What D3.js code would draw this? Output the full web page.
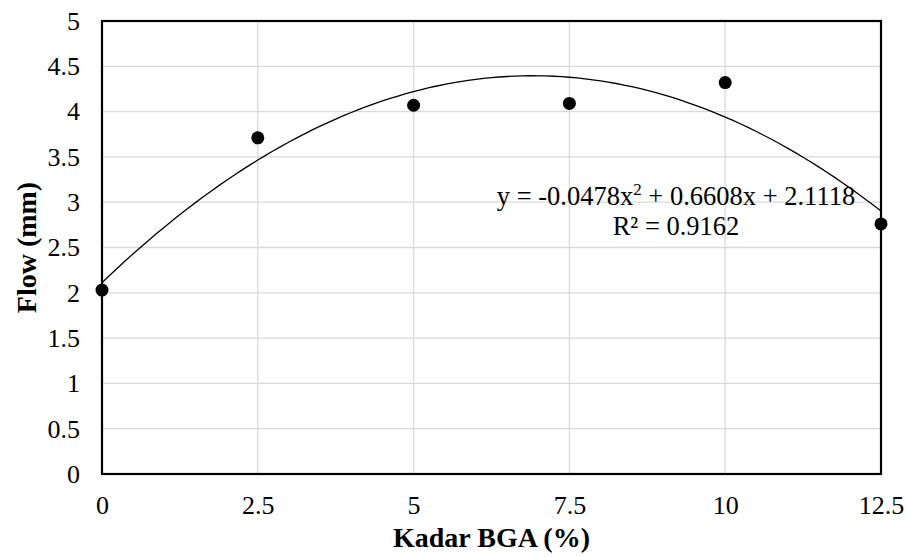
<!DOCTYPE html>
<html>
<head>
<meta charset="utf-8">
<script src="https://cdn.jsdelivr.net/npm/d3@7"></script>
<style>
  body { margin: 0; background: #fff; }
  svg text { font-family: "Liberation Serif", "Times New Roman", serif; fill: #000; }
</style>
</head>
<body>
<svg id="chart" width="906" height="557"></svg>
<script>
// data
const kadar = [0, 2.5, 5, 7.5, 10, 12.5];
const flow = [2.03, 3.71, 4.07, 4.09, 4.32, 2.76];
const xTicks = [0, 2.5, 5, 7.5, 10, 12.5];
const yTicks = [0, 0.5, 1, 1.5, 2, 2.5, 3, 3.5, 4, 4.5, 5];
// trendline coefficients as printed (a, b, c)
const trend = [-0.0478, 0.6608, 2.1118];
const eqParts = ["y = -0.0478x", "2", " + 0.6608x + 2.1118"];
const r2Text = "R² = 0.9162";

const WIDTH = 906, HEIGHT = 557;
const MARGIN = {left: 102, right: 25, top: 21, bottom: 83};

const svg = d3.select("#chart");

const xScale = d3.scaleLinear()
  .domain([0, 12.5])
  .range([MARGIN.left, WIDTH - MARGIN.right]);

const yScale = d3.scaleLinear()
  .domain([0, 5])
  .range([HEIGHT - MARGIN.bottom, MARGIN.top]);

// gridlines
svg.append("g")
  .selectAll("line")
  .data(yTicks.slice(1, -1))
  .join("line")
  .attr("x1", xScale(0)).attr("x2", xScale(12.5))
  .attr("y1", d => yScale(d)).attr("y2", d => yScale(d))
  .attr("stroke", "#d9d9d9").attr("stroke-width", 1.3);

svg.append("g")
  .selectAll("line")
  .data(xTicks.slice(1, -1))
  .join("line")
  .attr("x1", d => xScale(d)).attr("x2", d => xScale(d))
  .attr("y1", yScale(0)).attr("y2", yScale(5))
  .attr("stroke", "#d9d9d9").attr("stroke-width", 1.3);

// plot border
svg.append("rect")
  .attr("x", xScale(0)).attr("y", yScale(5))
  .attr("width", xScale(12.5) - xScale(0))
  .attr("height", yScale(0) - yScale(5))
  .attr("fill", "none").attr("stroke", "#000").attr("stroke-width", 2.2);

// axes (labels only)
const xAxis = svg.append("g")
  .attr("transform", `translate(0, ${yScale(0)})`)
  .call(d3.axisBottom(xScale).tickValues(xTicks).tickSize(0).tickPadding(22).tickFormat(d3.format("~g")));
xAxis.select(".domain").remove();
xAxis.selectAll("text").style("font-size", "26px").style("font-family", "Liberation Serif");

const yAxis = svg.append("g")
  .attr("transform", `translate(${xScale(0)}, 0)`)
  .call(d3.axisLeft(yScale).tickValues(yTicks).tickSize(0).tickPadding(22).tickFormat(d3.format("~g")));
yAxis.select(".domain").remove();
yAxis.selectAll("text").style("font-size", "26px").style("font-family", "Liberation Serif");

// axis titles
svg.append("text")
  .attr("x", (xScale(0) + xScale(12.5)) / 2)
  .attr("y", 547)
  .attr("text-anchor", "middle")
  .style("font-size", "28px")
  .style("font-weight", "bold")
  .text("Kadar BGA (%)");

svg.append("text")
  .attr("transform", "rotate(-90)")
  .attr("x", -(yScale(0) + yScale(5)) / 2)
  .attr("y", 36)
  .attr("text-anchor", "middle")
  .style("font-size", "28px")
  .style("font-weight", "bold")
  .text("Flow (mm)");

// polynomial trendline
const curveX = d3.range(0, 12.5001, 0.125);
svg.append("path")
  .datum(curveX)
  .attr("d", d3.line()
    .x(d => xScale(d))
    .y(d => yScale(trend[0] * d * d + trend[1] * d + trend[2])))
  .attr("fill", "none")
  .attr("stroke", "#000")
  .attr("stroke-width", 1.3);

// points
svg.append("g")
  .selectAll("circle")
  .data(kadar)
  .join("circle")
  .attr("cx", d => xScale(d))
  .attr("cy", (d, i) => yScale(flow[i]))
  .attr("r", 6.5)
  .attr("fill", "#000");

// equation label
const eq = svg.append("text")
  .attr("x", 676)
  .attr("y", 205)
  .attr("text-anchor", "middle")
  .style("font-size", "26.5px");
eq.append("tspan").text(eqParts[0]);
eq.append("tspan").attr("dy", -10).style("font-size", "17px").text(eqParts[1]);
eq.append("tspan").attr("dy", 10).text(eqParts[2]);

svg.append("text")
  .attr("x", 676)
  .attr("y", 235)
  .attr("text-anchor", "middle")
  .style("font-size", "26.5px")
  .text(r2Text);
</script>
</body>
</html>
